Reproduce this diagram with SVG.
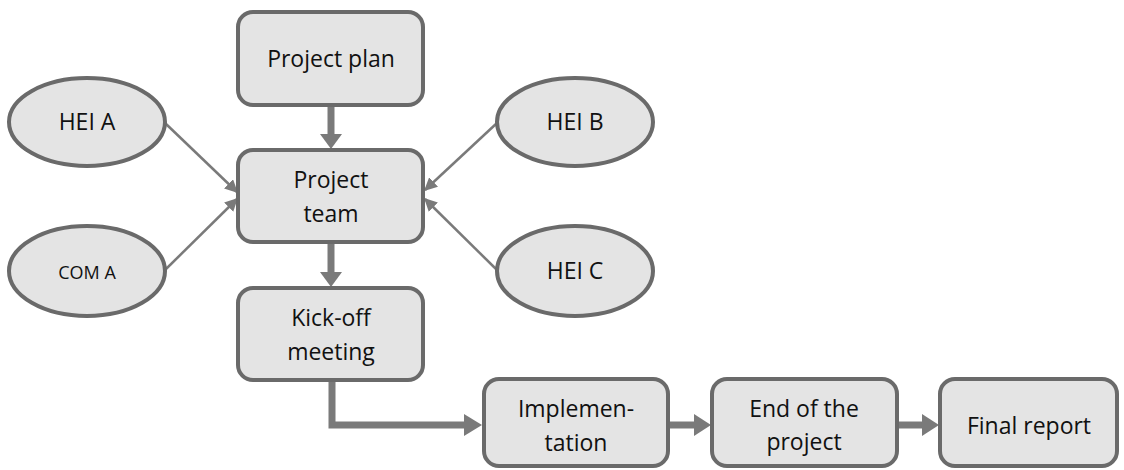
<svg xmlns="http://www.w3.org/2000/svg" width="1124" height="470" viewBox="0 0 1124 470">
<style>
.box{fill:#e4e4e4;stroke:#6a6a6a;stroke-width:4}
.t{font-family:"Open Sans","Liberation Sans",sans-serif;font-size:23px;fill:#111;text-anchor:middle}
.s{font-size:18px}
.thick{stroke:#7a7a7a;stroke-width:7;fill:none}
.thin{stroke:#7a7a7a;stroke-width:2.5;fill:none}
.head{fill:#7a7a7a}
</style>
<defs>
<marker id="ahs" viewBox="0 0 10 10" refX="9" refY="5" markerWidth="13" markerHeight="13" orient="auto" markerUnits="userSpaceOnUse">
<path d="M0,0 L10,5 L0,10 z" fill="#7a7a7a"/>
</marker>
</defs>
<g id="connectors">
<path class="thick" d="M331,106 V136"/>
<polygon class="head" points="320,134 342,134 331,149"/>
<path class="thick" d="M331,243 V274"/>
<polygon class="head" points="320,272 342,272 331,287"/>
<path class="thick" d="M332,381 V425 H466"/>
<polygon class="head" points="464,414 464,436 482,425"/>
<path class="thick" d="M669,425 H696"/>
<polygon class="head" points="694,414 694,436 711,425"/>
<path class="thick" d="M898,425 H924"/>
<polygon class="head" points="922,414 922,436 939,425"/>
<path class="thin" d="M165,123 L237,192" marker-end="url(#ahs)"/>
<path class="thin" d="M165,270 L237,199" marker-end="url(#ahs)"/>
<path class="thin" d="M497,123 L425,190" marker-end="url(#ahs)"/>
<path class="thin" d="M497,270 L425,199" marker-end="url(#ahs)"/>
</g>
<g id="project-plan"><rect class="box" x="238" y="12" width="185" height="93" rx="15"/><text class="t" x="331" y="67">Project plan</text></g>
<g id="project-team"><rect class="box" x="238" y="150" width="185" height="92" rx="15"/><text class="t" x="331" y="188">Project</text><text class="t" x="331" y="222">team</text></g>
<g id="kick-off"><rect class="box" x="238" y="288" width="185" height="92" rx="15"/><text class="t" x="331" y="326">Kick-off</text><text class="t" x="331" y="360">meeting</text></g>
<g id="implementation"><rect class="box" x="484" y="379" width="184" height="87" rx="15"/><text class="t" x="576" y="417">Implemen-</text><text class="t" x="576" y="451">tation</text></g>
<g id="end"><rect class="box" x="712" y="379" width="185" height="87" rx="15"/><text class="t" x="804" y="417">End of the</text><text class="t" x="804" y="450">project</text></g>
<g id="final-report"><rect class="box" x="940" y="379" width="177" height="87" rx="15"/><text class="t" x="1029" y="434">Final report</text></g>
<g id="hei-a"><ellipse class="box" cx="87" cy="122" rx="78" ry="44"/><text class="t" x="87" y="130">HEI A</text></g>
<g id="com-a"><ellipse class="box" cx="87" cy="271" rx="78" ry="45"/><text class="t s" x="87" y="279">COM A</text></g>
<g id="hei-b"><ellipse class="box" cx="575" cy="122" rx="78" ry="44"/><text class="t" x="575" y="130">HEI B</text></g>
<g id="hei-c"><ellipse class="box" cx="575" cy="271" rx="78" ry="45"/><text class="t" x="575" y="279">HEI C</text></g>
</svg>
